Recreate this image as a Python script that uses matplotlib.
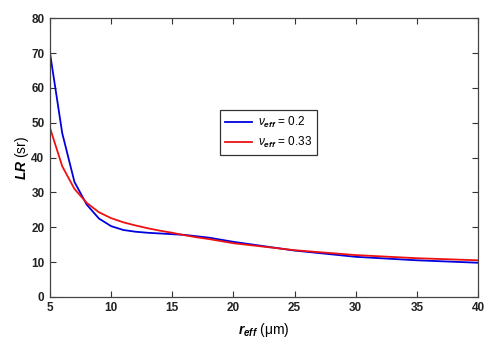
import matplotlib.pyplot as plt

plt.rcParams['font.family'] = 'Liberation Sans'
plt.rcParams['mathtext.fontset'] = 'custom'
plt.rcParams['mathtext.rm'] = 'Liberation Sans'
plt.rcParams['mathtext.it'] = 'Liberation Sans:italic'
plt.rcParams['mathtext.bf'] = 'Liberation Sans:bold'
plt.rcParams['mathtext.bfit'] = 'Liberation Sans:bold:italic'

# Daten
r_eff = [5, 6, 7, 8, 9, 10, 11, 12, 13, 14, 15, 16, 17, 18, 19, 20, 22, 25, 30, 35, 40]
lr_02 = [70, 47, 33, 26.5, 22.5, 20.3, 19.2, 18.7, 18.4, 18.2, 18.0, 17.8, 17.4,
         17.0, 16.4, 15.8, 14.8, 13.3, 11.5, 10.5, 9.8]
lr_033 = [48.5, 37.5, 31, 27, 24.3, 22.6, 21.4, 20.5, 19.7, 19.0, 18.4, 17.7, 17.1,
          16.6, 16.0, 15.4, 14.6, 13.4, 12.0, 11.1, 10.5]
xticks = [5, 10, 15, 20, 25, 30, 35, 40]
yticks = [0, 10, 20, 30, 40, 50, 60, 70, 80]

fig = plt.figure(figsize=(5, 3.44), dpi=100)
ax = fig.add_axes([0.1, 0.137, 0.856, 0.81])

ax.plot(r_eff, lr_02, color='#0000e0', lw=1.3, label=r'$\nu_{\mathbfit{eff}}$ = 0.2')
ax.plot(r_eff, lr_033, color='#ee1111', lw=1.3, label=r'$\nu_{\mathbfit{eff}}$ = 0.33')

ax.set_xlim(5, 40)
ax.set_ylim(0, 80)
ax.set_xticks(xticks)
ax.set_yticks(yticks)
ax.tick_params(direction='in', top=True, right=True, length=4, width=0.8,
               labelsize=8.5, colors='#333333', pad=4)
for lab in ax.get_xticklabels() + ax.get_yticklabels():
    lab.set_fontweight('bold')
    lab.set_color('#222222')
for s in ax.spines.values():
    s.set_color('#444444')
    s.set_linewidth(0.9)

ax.set_xlabel(r'$\mathbfit{r_{eff}}$ (μm)', fontsize=10)
ax.set_ylabel(r'$\mathbfit{LR}$ (sr)', fontsize=10)
ax.xaxis.set_label_coords(0.5, -0.085)
ax.yaxis.set_label_coords(-0.045, 0.5)

leg = ax.legend(loc='center', bbox_to_anchor=(0.51, 0.59), fontsize=8.5,
                fancybox=False, edgecolor='#333333', framealpha=1,
                handlelength=2.3, handletextpad=0.5, borderpad=0.4,
                labelspacing=0.4)
leg.get_frame().set_linewidth(0.9)

plt.savefig('out.png', dpi=100)
